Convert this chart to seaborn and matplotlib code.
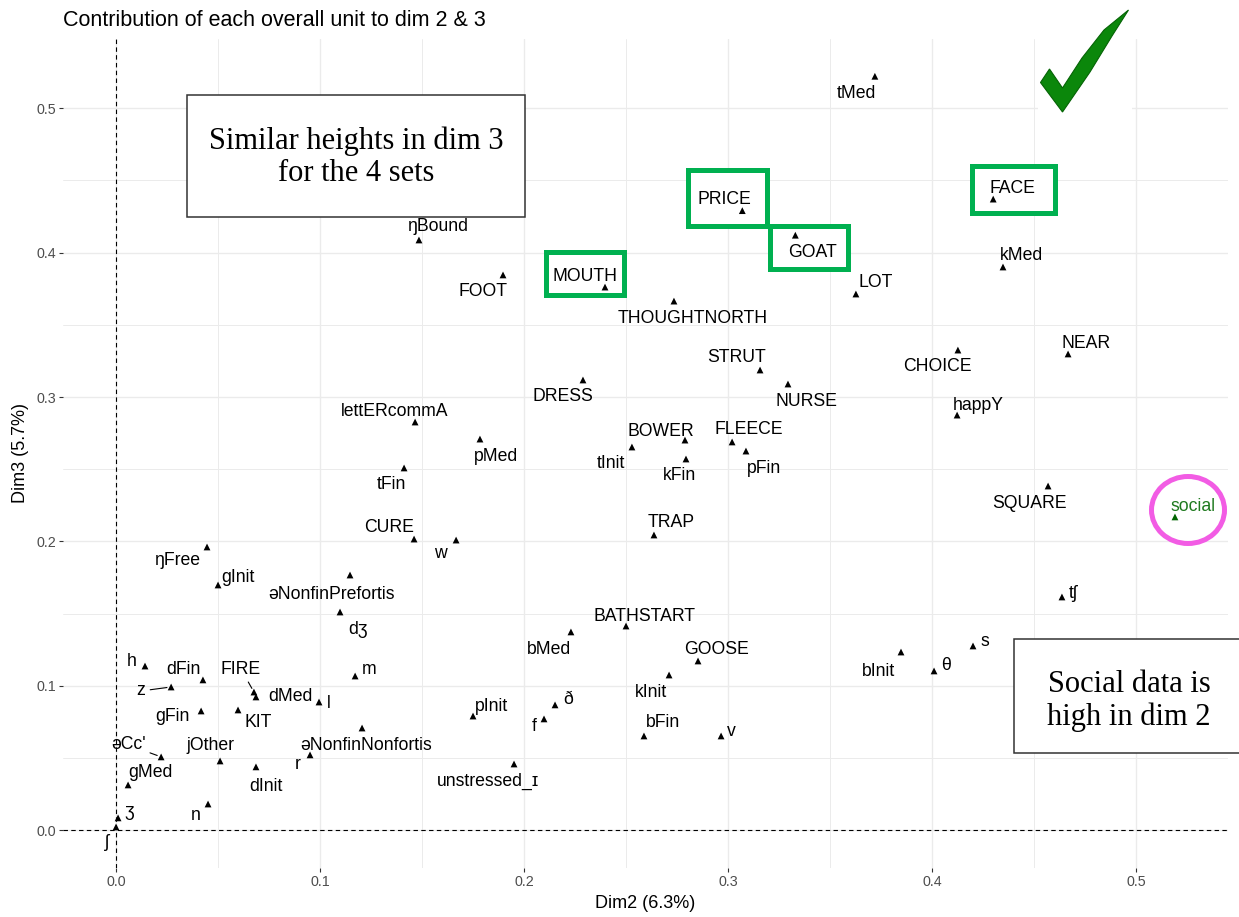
import numpy as np
import pandas as pd
import matplotlib
matplotlib.use("Agg")
import matplotlib.pyplot as plt
import matplotlib.patches as patches
from matplotlib.ticker import MultipleLocator, FormatStrFormatter
import seaborn as sns

# contribution of each overall unit
units = ["tMed", "PRICE", "FACE", "GOAT", "ŋBound", "FOOT", "MOUTH", "kMed", "LOT",
         "THOUGHTNORTH", "CHOICE", "NEAR", "STRUT", "DRESS", "NURSE", "lettERcommA",
         "happY", "pMed", "BOWER", "FLEECE", "tInit", "pFin", "kFin", "tFin", "SQUARE",
         "social", "TRAP", "CURE", "w", "ŋFree", "gInit", "əNonfinPrefortis", "dʒ", "tʃ",
         "BATHSTART", "bMed", "s", "GOOSE", "bInit", "kInit", "θ", "m", "h", "dFin", "z",
         "FIRE", "dMed", "l", "gFin", "KIT", "əNonfinNonfortis", "pInit", "ð", "f", "bFin",
         "v", "unstressed_ɪ", "əCc'", "jOther", "dInit", "r", "gMed", "n", "ʒ", "ʃ"]
dim2 = [0.372, 0.307, 0.430, 0.333, 0.1485, 0.1897, 0.2397, 0.4348, 0.3627,
        0.2735, 0.4127, 0.4667, 0.3157, 0.2289, 0.3294, 0.1466,
        0.4123, 0.1784, 0.2789, 0.3020, 0.2529, 0.3088, 0.2794, 0.1412, 0.4569,
        0.5191, 0.2637, 0.1461, 0.1667, 0.0446, 0.0500, 0.1147, 0.1098, 0.4637,
        0.2500, 0.2230, 0.4201, 0.2853, 0.3848, 0.2711, 0.4010, 0.1172, 0.0142, 0.0426, 0.0270,
        0.0676, 0.0686, 0.0995, 0.0417, 0.0598, 0.1206, 0.1750, 0.2152, 0.2098, 0.2588,
        0.2966, 0.1951, 0.0221, 0.0510, 0.0686, 0.0951, 0.0059, 0.0451, 0.0010, 0.0000]
dim3 = [0.522, 0.429, 0.437, 0.412, 0.4087, 0.3845, 0.3761, 0.3900, 0.3713,
        0.3664, 0.3325, 0.3298, 0.3187, 0.3118, 0.3090, 0.2827,
        0.2875, 0.2709, 0.2702, 0.2689, 0.2654, 0.2626, 0.2571, 0.2509, 0.2384,
        0.2170, 0.2045, 0.2017, 0.2010, 0.1962, 0.1699, 0.1768, 0.1512, 0.1616,
        0.1415, 0.1374, 0.1277, 0.1173, 0.1235, 0.1076, 0.1104, 0.1069, 0.1138, 0.1042, 0.0993,
        0.0958, 0.0924, 0.0889, 0.0827, 0.0834, 0.0709, 0.0792, 0.0869, 0.0772, 0.0654,
        0.0654, 0.0460, 0.0509, 0.0481, 0.0440, 0.0523, 0.0315, 0.0183, 0.0087, 0.0024]

# where each label sits relative to its point, in pixels (right, down)
label_dx = [-18, -18, 19, 17, 19, -20, -20, 19, 20,
            19, -21, 18, -23, -20, 18, -20,
            21, 16, -24, 17, -21, 18, -6, -13, -19,
            18, 17, -25, -16, -29, 20, -19, 18, 11,
            18, -22, 12, 18, -22, -18, 12, 14, -13, -20, -30,
            -13, 34, 10, -29, 20, 4, 19, 13, -10, 19,
            10, -26, -33, -10, 10, -12, 22, -12, 11, -9]
label_dy = [17, -11, -11, 17, -13, 17, -11, -11, -11,
            17, 16, -10, -12, 17, 17, -11,
            -10, 17, -9, -12, 17, 17, 17, 17, 17,
            -10, -12, -12, 13, 14, -7, 19, 18, -3,
            -10, 18, -4, -11, 19, 18, -5, -6, -5, -10, 4,
            -23, 0, 2, 6, 13, 17, -10, -5, 8, -13,
            -4, 17, -12, -15, 20, 10, -12, 12, -6, 16]
with_segment = ["z", "FIRE", "əCc'"]

W, H = 1239, 917

sns.set_theme(style="white")
plt.rcParams['font.family'] = ['Liberation Sans', 'DejaVu Sans']
plt.rcParams['text.color'] = 'black'

df = pd.DataFrame({"unit": units, "dim2": dim2, "dim3": dim3})
df["kind"] = np.where(df["unit"] == "social", "social", "unit")

fig = plt.figure(figsize=(W / 100, H / 100), dpi=100)
ax = fig.add_axes([63 / W, 1 - 868 / H, 1165 / W, 829 / H])


def box(x0, y0, x1, y1, **kw):
    # rectangle given in picture pixels (y from top)
    r = patches.Rectangle((x0 / W, 1 - y1 / H), (x1 - x0) / W, (y1 - y0) / H,
                          transform=fig.transFigure, clip_on=False, **kw)
    ax.add_patch(r)
    return r


sns.scatterplot(data=df, x="dim2", y="dim3", hue="kind",
                palette={"unit": "black", "social": "#006400"},
                marker="^", s=24, linewidth=0, legend=False, ax=ax, zorder=3)

ax.axhline(0, color="black", ls=(0, (4, 3)), lw=0.8, zorder=2)
ax.axvline(0, color="black", ls=(0, (4, 3)), lw=0.8, zorder=2)

# labels
for i, row in df.iterrows():
    col = "#1f7a1f" if row["unit"] == "social" else "black"
    arrow = None
    if row["unit"] in with_segment:
        arrow = dict(arrowstyle="-", color="black", lw=0.8, shrinkA=1, shrinkB=3)
    ax.annotate(row["unit"], (row["dim2"], row["dim3"]),
                xytext=(label_dx[i] * 0.72, -label_dy[i] * 0.72), textcoords="offset points",
                ha="center", va="center", fontsize=12.7, color=col, zorder=4,
                arrowprops=arrow)

# green boxes round the four sets
for x0, y0, x1, y1 in [(545.5, 251.5, 623.5, 294.5), (687.5, 169.5, 766.5, 225.5),
                       (769.5, 225.5, 847.5, 268.5), (971.5, 166.5, 1054.5, 212.5)]:
    box(x0, y0, x1, y1, facecolor="white", edgecolor="#00B050", lw=3.6, zorder=1.5)

# note boxes
box(187, 95, 525, 217, facecolor="white", edgecolor="#333333", lw=1.1, zorder=1.6)
fig.text(356 / W, 1 - 157 / H, "Similar heights in dim 3\nfor the 4 sets", ha="center",
         va="center", fontsize=22, family="Liberation Serif", linespacing=1.12, color="black")
box(1014, 639, 1250, 753, facecolor="white", edgecolor="#333333", lw=1.1, zorder=1.6)
fig.text(1129 / W, 1 - 701 / H, "Social data is\nhigh in dim 2", ha="center",
         va="center", fontsize=22, family="Liberation Serif", linespacing=1.12, color="black")

# pink ring round social
ring = patches.Ellipse((1188 / W, 1 - 510 / H), 73 / W, 67 / H, transform=fig.transFigure,
                       facecolor="none", edgecolor="#F25CE4", lw=3.6, zorder=5, clip_on=False)
ax.add_patch(ring)

# tick mark
box(1038, 8, 1132, 116, facecolor="white", edgecolor="none", zorder=1.5)
tick_pts = [(1040.5, 82.5), (1049.5, 69), (1062.5, 88), (1082, 58), (1104, 30),
            (1128.5, 10), (1112, 36), (1090, 72), (1062.5, 112)]
check = patches.Polygon([(x / W, 1 - y / H) for x, y in tick_pts], closed=True,
                        transform=fig.transFigure, facecolor="#0B870B", edgecolor="#056305",
                        lw=0.8, zorder=5, clip_on=False)
ax.add_patch(check)

ax.set_xlim(-0.026, 0.5451)
ax.set_ylim(-0.026, 0.5478)
ax.xaxis.set_major_locator(MultipleLocator(0.1))
ax.xaxis.set_minor_locator(MultipleLocator(0.05))
ax.yaxis.set_major_locator(MultipleLocator(0.1))
ax.yaxis.set_minor_locator(MultipleLocator(0.05))
ax.xaxis.set_major_formatter(FormatStrFormatter("%.1f"))
ax.yaxis.set_major_formatter(FormatStrFormatter("%.1f"))
ax.grid(which="major", color="#EBEBEB", lw=1.0)
ax.grid(which="minor", color="#EBEBEB", lw=0.7)
ax.set_axisbelow(True)
for sp in ax.spines.values():
    sp.set_visible(False)
ax.tick_params(which="major", length=3, width=0.8, color="#333333", labelsize=10.3,
               labelcolor="#4D4D4D", pad=2, bottom=True, left=True)
ax.tick_params(which="minor", length=0)
ax.set_xlabel("")
ax.set_ylabel("")

fig.text(63 / W, 1 - 20 / H, "Contribution of each overall unit to dim 2 & 3",
         ha="left", va="center", fontsize=15.5, color="black")
fig.text(645 / W, 1 - 903 / H, "Dim2 (6.3%)", ha="center", va="center", fontsize=13,
         color="black")
fig.text(21 / W, 1 - 453 / H, "Dim3 (5.7%)", ha="center", va="center", fontsize=13,
         rotation=90, color="black")

fig.savefig("out.png", dpi=100)
plt.close(fig)
